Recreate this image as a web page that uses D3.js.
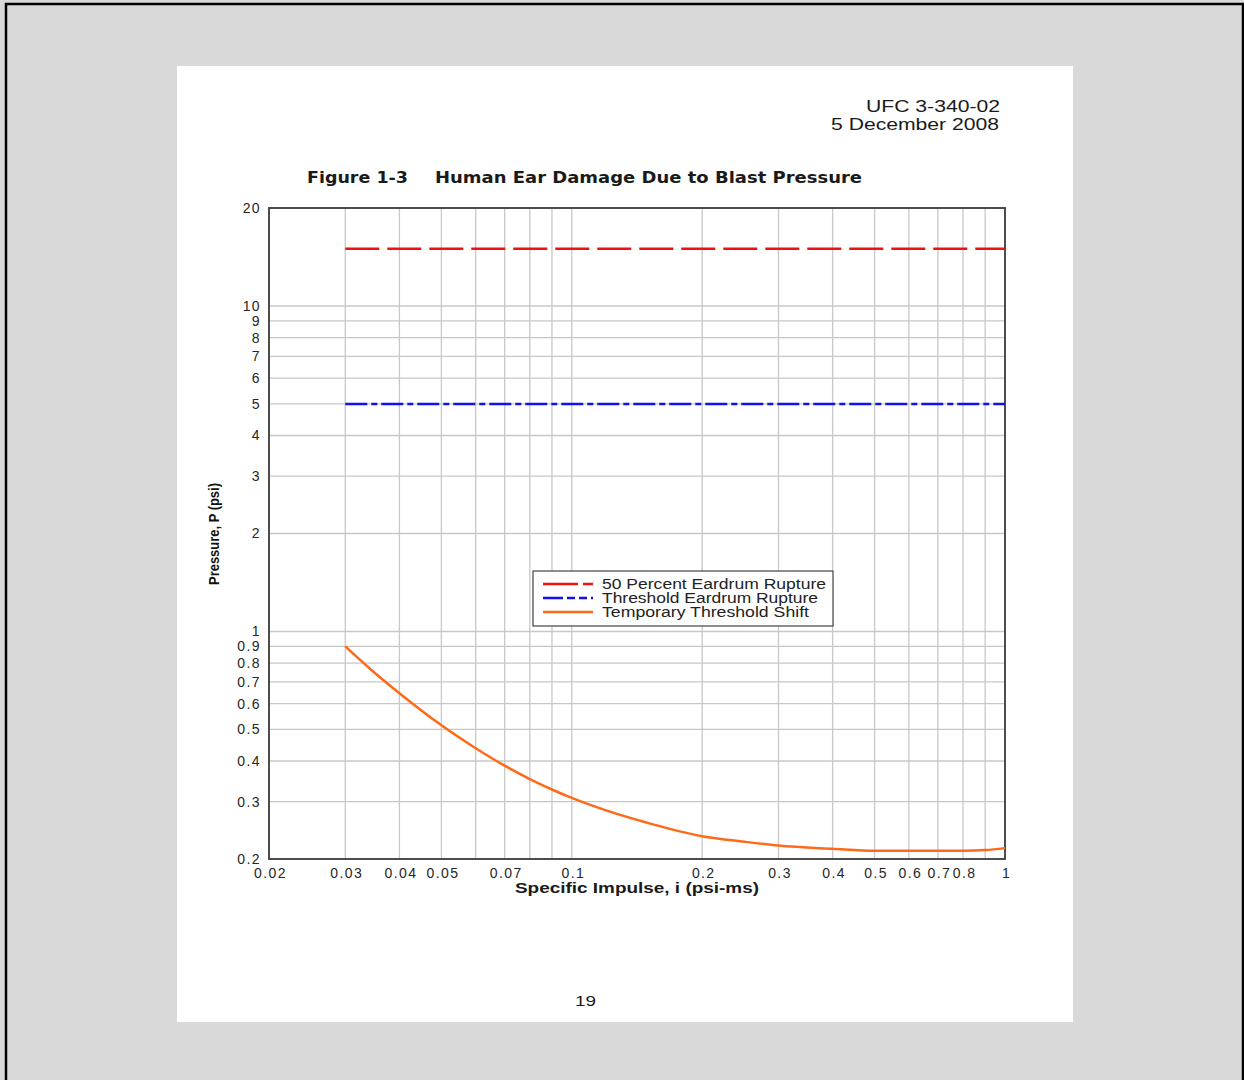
<!DOCTYPE html>
<html>
<head>
<meta charset="utf-8">
<script src="https://cdn.jsdelivr.net/npm/d3@7"></script>
<style>
  body { margin: 0; background: #d9d9d9; }
  svg { display: block; font-family: "Liberation Sans", Arial, sans-serif; }
  .tick-label { font-size: 14px; fill: #262626; letter-spacing: 1.4px; }
  .legend-text { font-size: 14px; fill: #222; }
</style>
</head>
<body>
<svg id="chart" width="1244" height="1080"></svg>
<script>
// x-axis: specific impulse (psi-ms)
const X_DOMAIN = [0.02, 1];
const X_GRID = [0.03, 0.04, 0.05, 0.06, 0.07, 0.08, 0.09, 0.1, 0.2, 0.3, 0.4, 0.5, 0.6, 0.7, 0.8, 0.9];
const X_LABELS = [0.02, 0.03, 0.04, 0.05, 0.07, 0.1, 0.2, 0.3, 0.4, 0.5, 0.6, 0.7, 0.8, 1];

// y-axis: pressure (psi)
const Y_DOMAIN = [0.2, 20];
const Y_GRID = [0.3, 0.4, 0.5, 0.6, 0.7, 0.8, 0.9, 1, 2, 3, 4, 5, 6, 7, 8, 9, 10];
const Y_LABELS = [0.2, 0.3, 0.4, 0.5, 0.6, 0.7, 0.8, 0.9, 1, 2, 3, 4, 5, 6, 7, 8, 9, 10, 20];

// series
const RUPTURE_50 = [{ i: 0.03, p: 15 }, { i: 1, p: 15 }];
const RUPTURE_THRESHOLD = [{ i: 0.03, p: 5 }, { i: 1, p: 5 }];
const TTS_IMPULSE = [0.03, 0.035, 0.04, 0.05, 0.06, 0.07, 0.08, 0.09, 0.1, 0.12, 0.15, 0.2, 0.25, 0.3, 0.4, 0.5, 0.6, 0.8, 0.9, 1];
const TTS_PRESSURE = [0.9, 0.748, 0.646, 0.515, 0.438, 0.387, 0.352, 0.327, 0.308, 0.282, 0.258, 0.235, 0.226, 0.22, 0.215, 0.212, 0.212, 0.212, 0.213, 0.216];
const TTS = TTS_IMPULSE.map((i, k) => ({ i, p: TTS_PRESSURE[k] }));

const SERIES = [
  { name: "50 Percent Eardrum Rupture", data: RUPTURE_50, color: "#f01010", dash: "34,8", legendLen: 224 },
  { name: "Threshold Eardrum Rupture", data: RUPTURE_THRESHOLD, color: "#1010f0", dash: "22,4,6,4", legendLen: 216 },
  { name: "Temporary Threshold Shift", data: TTS, color: "#ff6a1a", dash: null, legendLen: 207 },
];

const svg = d3.select("#chart");

// stretched text helper: the original uses a wider face than the installed ones
function wideText(x, y, str, len, size, weight, anchor = "start") {
  return svg.append("text")
    .attr("x", x).attr("y", y)
    .attr("text-anchor", anchor)
    .attr("font-size", size)
    .attr("font-weight", weight)
    .attr("fill", "#1a1a1a")
    .attr("textLength", len)
    .attr("lengthAdjust", "spacingAndGlyphs")
    .text(str);
}

// outer frame and white page
svg.append("rect").attr("x", 6).attr("y", 4).attr("width", 1237).attr("height", 1100)
  .attr("fill", "#d9d9d9").attr("stroke", "#000").attr("stroke-width", 2.5);
svg.append("rect").attr("x", 177).attr("y", 66).attr("width", 896).attr("height", 956)
  .attr("fill", "#fff");

// header
wideText(866, 112, "UFC 3-340-02", 134, 16, "normal");
wideText(831, 130, "5 December 2008", 168, 16, "normal");

// figure title
wideText(307, 183, "Figure 1-3", 101, 15, "bold").attr("font-family", "'DejaVu Sans', sans-serif");
wideText(435, 183, "Human Ear Damage Due to Blast Pressure", 427, 15, "bold")
  .attr("font-family", "'DejaVu Sans', sans-serif");

// page number
wideText(575, 1006, "19", 21, 15, "normal");

// plot area
const plot = { left: 269, top: 208, right: 1005, bottom: 859 };

const xScale = d3.scaleLog().domain(X_DOMAIN).range([plot.left, plot.right]);
const yScale = d3.scaleLog().domain(Y_DOMAIN).range([plot.bottom, plot.top]);

// grid lines
const grid = svg.append("g").attr("stroke", "#c8c8c8").attr("stroke-width", 1.3);
grid.selectAll(".gx").data(X_GRID).join("line")
  .attr("x1", (d) => xScale(d)).attr("x2", (d) => xScale(d))
  .attr("y1", plot.top).attr("y2", plot.bottom);
grid.selectAll(".gy").data(Y_GRID).join("line")
  .attr("x1", plot.left).attr("x2", plot.right)
  .attr("y1", (d) => yScale(d)).attr("y2", (d) => yScale(d));

// axes (labels only, frame drawn separately)
const xAxis = svg.append("g")
  .attr("transform", `translate(1, ${plot.bottom})`)
  .call(d3.axisBottom(xScale).tickValues(X_LABELS).tickFormat(d3.format("")).tickSize(0).tickPadding(9));
const yAxis = svg.append("g")
  .attr("transform", `translate(${plot.left - 6}, 0)`)
  .call(d3.axisLeft(yScale).tickValues(Y_LABELS).tickFormat(d3.format("")).tickSize(0).tickPadding(2));
[xAxis, yAxis].forEach((ax) => {
  ax.select(".domain").remove();
  ax.selectAll("text").attr("class", "tick-label").attr("fill", null);
  ax.attr("font-size", null).attr("font-family", null);
});

// plot frame
svg.append("rect")
  .attr("x", plot.left).attr("y", plot.top)
  .attr("width", plot.right - plot.left).attr("height", plot.bottom - plot.top)
  .attr("fill", "none").attr("stroke", "#3a3a3a").attr("stroke-width", 1.8);

// series lines
const line = d3.line()
  .x((d) => xScale(d.i))
  .y((d) => yScale(d.p))
  .curve(d3.curveMonotoneX);

SERIES.forEach((s) => {
  svg.append("path")
    .datum(s.data)
    .attr("fill", "none")
    .attr("stroke", s.color)
    .attr("stroke-width", 2.5)
    .attr("stroke-dasharray", s.dash)
    .attr("d", line);
});

// axis titles
wideText(515, 893, "Specific Impulse, i (psi-ms)", 244, 15, "bold");
svg.append("text")
  .attr("transform", "translate(219, 534) rotate(-90)")
  .attr("text-anchor", "middle")
  .attr("font-size", 14).attr("font-weight", "bold").attr("fill", "#111")
  .attr("textLength", 102).attr("lengthAdjust", "spacingAndGlyphs")
  .text("Pressure, P (psi)");

// legend
const legend = svg.append("g").attr("transform", "translate(533, 571)");
legend.append("rect").attr("width", 300).attr("height", 55)
  .attr("fill", "#fff").attr("stroke", "#444").attr("stroke-width", 1.2);
const legendDash = ["35,5,10,5", "20,4,8,4,8,4", null];
SERIES.forEach((s, k) => {
  const y = 13 + k * 14;
  legend.append("line")
    .attr("x1", 10).attr("x2", 60).attr("y1", y).attr("y2", y)
    .attr("stroke", s.color).attr("stroke-width", 2.5)
    .attr("stroke-dasharray", legendDash[k]);
  legend.append("text").attr("class", "legend-text")
    .attr("x", 69).attr("y", y + 5)
    .attr("textLength", s.legendLen).attr("lengthAdjust", "spacingAndGlyphs")
    .text(s.name);
});
</script>
</body>
</html>
